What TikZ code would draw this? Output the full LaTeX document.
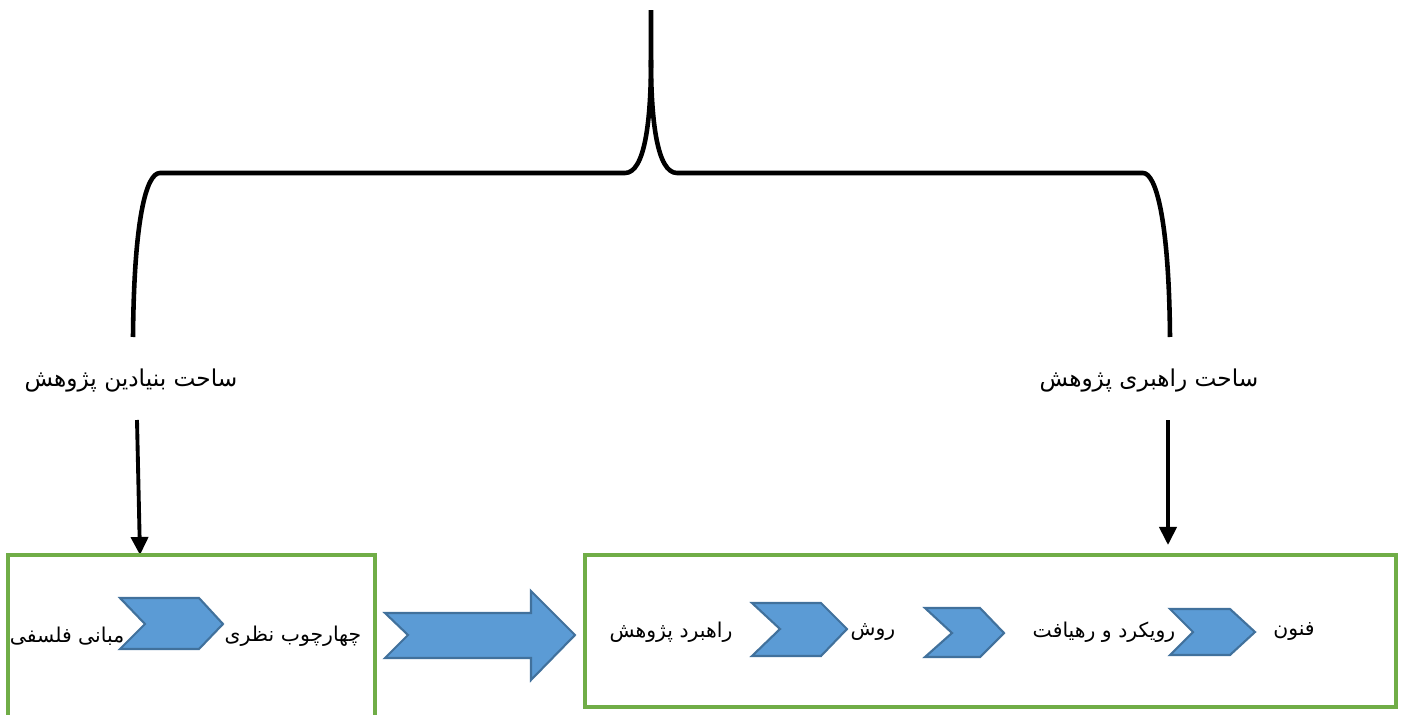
\documentclass[tikz,border=0pt]{standalone}
\usepackage{fontspec}
\usetikzlibrary{arrows.meta}
\newfontfamily\farsi[Script=Arabic]{DejaVu Sans}
\TeXXeTstate=1
\definecolor{boxgreen}{HTML}{70AD47}
\definecolor{chevfill}{HTML}{5B9BD5}
\definecolor{chevline}{HTML}{41719C}
\newcommand{\fatext}[1]{{\farsi\beginR #1\endR}}
\begin{document}
\begin{tikzpicture}[x=0.01cm,y=-0.01cm,>={Triangle[length=1.8mm,width=1.7mm]},
    brace/.style={line width=1.3pt},
    arr/.style={->,line width=1.1pt},
    frame/.style={draw=boxgreen,line width=0.9pt},
    chev/.style={fill=chevfill,draw=chevline,line width=0.6pt},
    big/.style={font=\fontsize{6.6}{8}\selectfont},
    small/.style={font=\fontsize{5.8}{7}\selectfont}]
    \useasboundingbox (0,0) rectangle (1402,715);
    % brace
    \draw[brace](133,337) .. controls (134,220) and (146,173) .. (160,173)--(625,173)
        .. controls (645,173) and (651,120) .. (651,60)--(651,10);
    \draw[brace](651,60) .. controls (651,120) and (657,173) .. (677,173)--(1143,173)
        .. controls (1156,173) and (1169,220) .. (1170,337);
    \node[big](lblL) at(131,381){\fatext{ساحت بنیادین پژوهش}};
    \node[big](lblR) at(1149,381){\fatext{ساحت راهبری پژوهش}};
    \coordinate(fromL) at(137,420);\coordinate(toL) at(140,555);
    \coordinate(fromR) at(1168,420);\coordinate(toR) at(1168,545);
    \draw[arr](fromL)--(toL);
    \draw[arr](fromR)--(toR);
    % boxes
    \draw[frame](8,715)--(8,555)--(375,555)--(375,715);
    \draw[frame](585,555)rectangle(1396,707);
    % chevrons
    \draw[chev](120,598)--(199,598)--(223,624)--(199,649)--(120,649)--(145,624)--cycle;
    \draw[chev](752,603)--(821,603)--(847,629)--(821,656)--(752,656)--(780,629)--cycle;
    \draw[chev](925,608)--(980,608)--(1004,633)--(980,657)--(925,657)--(952,633)--cycle;
    \draw[chev](1170,609)--(1230,609)--(1255,632)--(1230,655)--(1170,655)--(1193,632)--cycle;
    \draw[chev](385,613)--(531,613)--(531,591)--(575,635)--(531,680)--(531,658)--(385,658)--(408,635)--cycle;
    % texts
    \node[small](mabani) at(67,636){\fatext{مبانی فلسفی}};
    \node[small](chaharchub) at(293,636){\fatext{چهارچوب نظری}};
    \node[small](rahbord) at(671,632){\fatext{راهبرد پژوهش}};
    \node[small](ravesh) at(873,632){\fatext{روش}};
    \node[small](rooykard) at(1104,632){\fatext{رویکرد و رهیافت}};
    \node[small](fonun) at(1294,632){\fatext{فنون}};
\end{tikzpicture}
\end{document}
